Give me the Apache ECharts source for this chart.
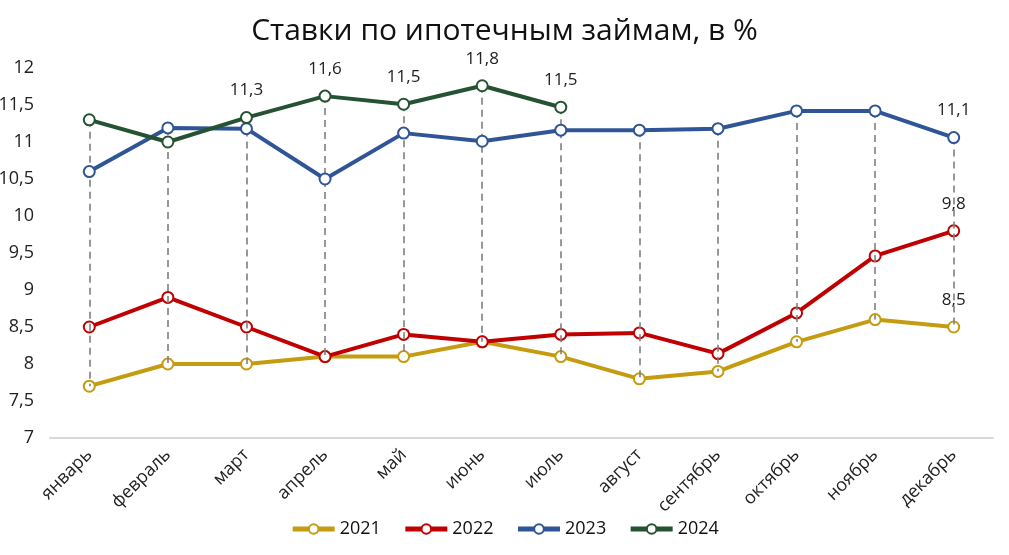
<!DOCTYPE html>
<html><head><meta charset="utf-8">
<script src="https://cdn.jsdelivr.net/npm/echarts@6/dist/echarts.min.js"></script>
<style>html,body{margin:0;padding:0;background:#fff}#c{width:1009px;height:555px}</style>
</head><body><div id="c"></div>
<script>
const categories = ['январь','февраль','март','апрель','май','июнь','июль','август','сентябрь','октябрь','ноябрь','декабрь'];
const s2021 = [7.7, 8.0, 8.0, 8.1, 8.1, 8.3, 8.1, 7.8, 7.9, 8.3, 8.6, 8.5];
const s2022 = [8.5, 8.9, 8.5, 8.1, 8.4, 8.3, 8.4, 8.42, 8.14, 8.69, 9.46, 9.8];
const s2023 = [10.6, 11.19, 11.18, 10.5, 11.12, 11.01, 11.16, 11.16, 11.18, 11.42, 11.42, 11.06];
const s2024 = [11.3, 11.0, 11.33, 11.62, 11.51, 11.76, 11.47, null, null, null, null, null];
const names = ['2021','2022','2023','2024'];
const colors = ['#C59B10','#C00000','#2F5597','#255232'];
const labelIdx = [[11],[11],[11],[2,3,4,5,6]];
const yTicks = {min:7, max:12, interval:0.5};

const all = [s2021,s2022,s2023,s2024];
const dropLines = categories.map((c,i)=>{
  const vals = all.map(s=>s[i]).filter(v=>v!=null);
  return [{coord:[c, Math.max(...vals)]},{coord:[c, Math.min(...vals)]}];
});
const fmt = v => (Math.round(v*10)/10).toFixed(1).replace('.',',');
const font = 'Open Sans';

const series = all.map((arr,k)=>({
  name: names[k], type:'line', data: arr.map((v,i)=>({value:v, label:{show: labelIdx[k].includes(i)}})),
  z: 3+k, symbol:'circle', symbolSize:11, showSymbol:true,
  lineStyle:{color:colors[k], width:4},
  itemStyle:{color:'#fff', borderColor:colors[k], borderWidth:2},
  label:{show:false, position:'top', distance:12, fontFamily:font, fontSize:17, color:'#222',
    formatter: p => fmt(p.value)},
  emphasis:{disabled:true}
}));
series.unshift({
  type:'line', data:[], silent:true, z:1,
  markLine:{symbol:'none', silent:true, label:{show:false},
    lineStyle:{type:[7,5], color:'#7f7f7f', width:1.6}, data: dropLines}
});

const chart = echarts.init(document.getElementById('c'));
chart.setOption({
  animation:false,
  title:{text:'Ставки по ипотечным займам, в %', left:'center', top:11,
    textStyle:{fontFamily:font, fontSize:30, fontWeight:'normal', color:'#111'}},
  grid:{left:50, right:16, top:68, bottom:117, outerBoundsMode:'none', containLabel:false},
  legend:{bottom:12, left:'center', itemWidth:42, itemHeight:12, itemGap:22,
    lineStyle:{width:5},
    data: names.map((n,k)=>({name:n, itemStyle:{color:'#fff', borderColor:colors[k], borderWidth:2}, lineStyle:{width:5, color:colors[k]}})),
    textStyle:{fontFamily:font, fontSize:18, color:'#111'}},
  xAxis:{type:'category', data:categories, boundaryGap:true,
    axisLine:{lineStyle:{color:'#d9d9d9', width:2}}, axisTick:{show:false},
    axisLabel:{rotate:45, fontFamily:font, fontSize:18, color:'#222', margin:14}},
  yAxis:{type:'value', min:yTicks.min, max:yTicks.max, interval:yTicks.interval,
    splitLine:{show:false}, axisLine:{show:false}, axisTick:{show:false},
    axisLabel:{fontFamily:font, fontSize:18, color:'#222', margin:16,
      formatter: v => String(v).replace('.',',')}},
  series
});
</script></body></html>
